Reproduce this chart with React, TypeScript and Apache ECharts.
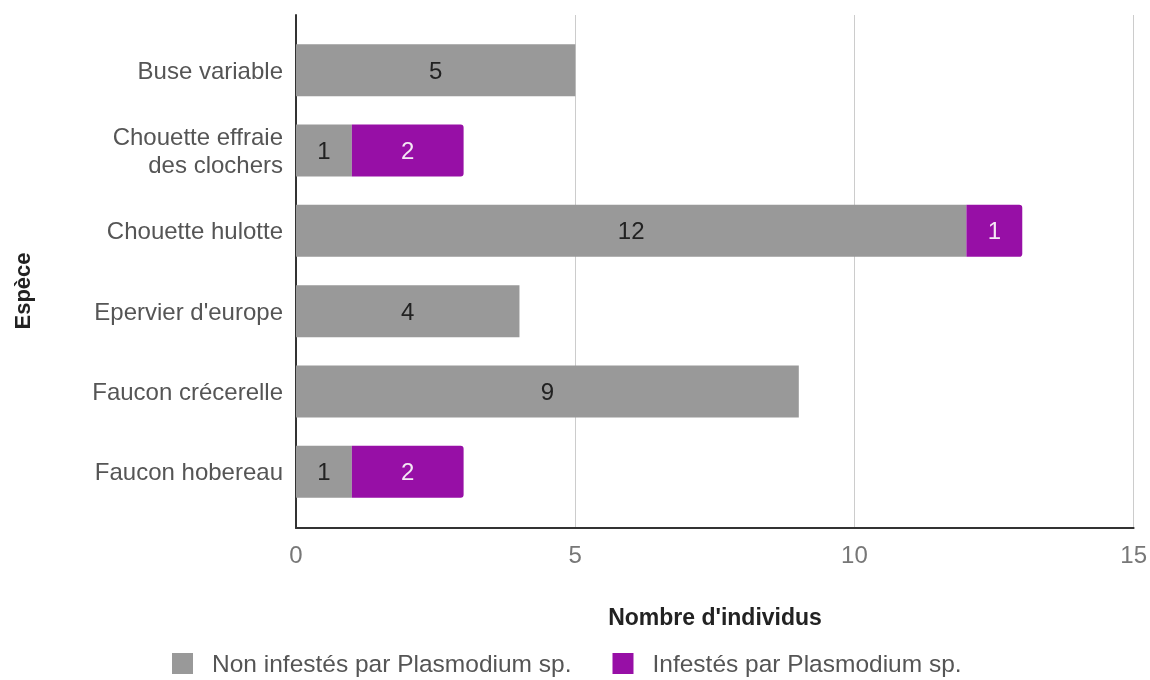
import React, { useEffect, useRef } from "react";
import * as echarts from "echarts";

const categories = [
  "Buse variable",
  "Chouette effraie\ndes clochers",
  "Chouette hulotte",
  "Epervier d'europe",
  "Faucon crécerelle",
  "Faucon hobereau",
];
const nonInfested = [5, 1, 12, 4, 9, 1];
const infested = [null, 2, 1, null, null, 2];
const seriesNames = ["Non infestés par Plasmodium sp.", "Infestés par Plasmodium sp."];
const xTicks = { min: 0, max: 15, interval: 5 };

export default function App() {
  const ref = useRef<HTMLDivElement>(null);
  useEffect(() => {
    if (!ref.current) return;
    const chart = echarts.init(ref.current, undefined, { renderer: "svg" });
    const font = "Arial, 'Liberation Sans', sans-serif";
    chart.setOption({
      animation: false,
      textStyle: { fontFamily: font },
      grid: [
        { left: 296, right: 16, top: 15, height: 513 },
        { left: 296, right: 16, top: 30, height: 482 },
      ],
      xAxis: [
        {
          gridIndex: 0,
          type: "value",
          min: xTicks.min,
          max: xTicks.max,
          interval: xTicks.interval,
          axisLine: { show: true, lineStyle: { color: "#333", width: 2 } },
          axisTick: { show: false },
          splitLine: { show: true, lineStyle: { color: "#cccccc", width: 1 } },
          axisLabel: { fontSize: 24, color: "#777", margin: 14, fontFamily: font },
        },
        {
          gridIndex: 1,
          type: "value",
          min: xTicks.min,
          max: xTicks.max,
          interval: xTicks.interval,
          show: false,
        },
      ],
      yAxis: [
        {
          gridIndex: 0,
          type: "value",
          min: 0,
          max: 1,
          axisLine: { show: true, lineStyle: { color: "#333", width: 2 } },
          axisTick: { show: false },
          axisLabel: { show: false },
          splitLine: { show: false },
        },
        {
          gridIndex: 1,
          type: "category",
          data: categories,
          inverse: true,
          axisLine: { show: false },
          axisTick: { show: false },
          axisLabel: {
            fontSize: 24,
            color: "#555",
            margin: 13,
            lineHeight: 28,
            align: "right",
            fontFamily: font,
          },
        },
      ],
      legend: {
        left: 172,
        top: 651,
        padding: 0,
        itemWidth: 21,
        itemHeight: 21,
        itemGap: 41,
        icon: "rect",
        textStyle: { fontSize: 24.5, color: "#555", padding: [0, 0, 0, 14], fontFamily: font },
        data: seriesNames,
      },
      graphic: [
        {
          type: "text",
          x: 22,
          y: 291,
          rotation: Math.PI / 2,
          style: {
            text: "Espèce",
            font: "bold 22px Arial, 'Liberation Sans', sans-serif",
            fill: "#222",
            textAlign: "center",
            textVerticalAlign: "middle",
          },
        },
        {
          type: "text",
          x: 715,
          y: 617,
          style: {
            text: "Nombre d'individus",
            font: "bold 23px Arial, 'Liberation Sans', sans-serif",
            fill: "#222",
            textAlign: "center",
            textVerticalAlign: "middle",
          },
        },
      ],
      series: [
        {
          name: seriesNames[0],
          type: "bar",
          stack: "total",
          xAxisIndex: 1,
          yAxisIndex: 1,
          barWidth: 52,
          data: nonInfested,
          itemStyle: { color: "#999999" },
          label: { show: true, position: "inside", fontSize: 24, color: "#222", fontFamily: font },
        },
        {
          name: seriesNames[1],
          type: "bar",
          stack: "total",
          xAxisIndex: 1,
          yAxisIndex: 1,
          barWidth: 52,
          data: infested,
          itemStyle: { color: "#970fa6", borderRadius: [0, 3, 3, 0] },
          label: { show: true, position: "inside", fontSize: 24, color: "#f4e8f4", fontFamily: font },
        },
      ],
    });
    return () => chart.dispose();
  }, []);
  return (
    <div
      ref={ref}
      style={{ position: "fixed", left: 0, top: 0, width: 1150, height: 680 }}
    />
  );
}
